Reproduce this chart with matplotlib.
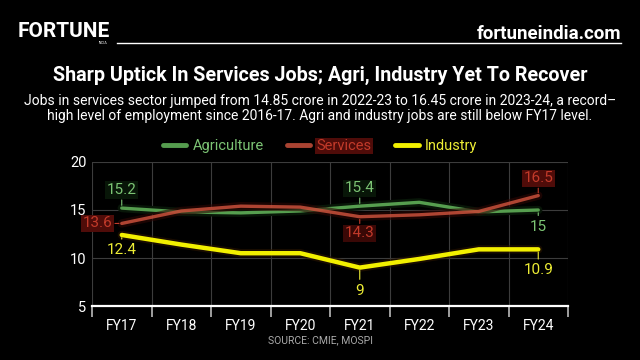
import matplotlib
matplotlib.use('Agg')
import matplotlib.pyplot as plt
import matplotlib.patheffects as pe
from matplotlib import font_manager
from matplotlib.lines import Line2D

# Data (crore jobs)
years = ['FY17', 'FY18', 'FY19', 'FY20', 'FY21', 'FY22', 'FY23', 'FY24']
agriculture = [15.2, 14.8, 14.7, 14.9, 15.4, 15.8, 14.8, 15.0]
services = [13.6, 14.9, 15.4, 15.3, 14.3, 14.5, 14.85, 16.5]
industry = [12.4, 11.4, 10.5, 10.5, 9.0, 9.9, 10.9, 10.9]
y_ticks = [5, 10, 15, 20]

# Pick a narrow font if we have one
names = {f.name for f in font_manager.fontManager.ttflist}
FONT = 'Liberation Sans Narrow' if 'Liberation Sans Narrow' in names else 'Roboto'
plt.rcParams['font.family'] = [FONT, 'DejaVu Sans']

GREEN, GREEN_TXT, GREEN_BOX = '#5fae57', '#7cc474', '#081608'
RED, RED_TXT, RED_BOX = '#d4553f', '#c23a2a', '#4f0c09'
YELLOW, YELLOW_TXT = '#f2f000', '#eded35'

W, H = 640, 360


def fx(px):
    return px / W


def fy(py):
    return 1 - py / H


fig = plt.figure(figsize=(6.4, 3.6), dpi=100, facecolor='black')

# Header
fig.text(fx(18), fy(37), 'FORTUNE', color='white', fontsize=15, fontweight='bold',
         va='baseline', ha='left')
fig.text(fx(103), fy(43), 'INDIA', color='white', fontsize=2.5, ha='center', va='center')
fig.text(fx(621), fy(39), 'fortuneindia.com', color='white', fontsize=13.5,
         fontweight='bold', ha='right', va='baseline')
fig.add_artist(Line2D([fx(117), fx(621)], [fy(42.5), fy(42.5)], color='white', lw=1))

# Title and subtitle
fig.text(0.5, fy(81), 'Sharp Uptick In Services Jobs; Agri, Industry Yet To Recover',
         color='white', fontsize=14.2, fontweight='bold', ha='center', va='baseline')
fig.text(0.5, fy(105), 'Jobs in services sector jumped from 14.85 crore in 2022-23 to 16.45 crore in 2023-24, a record\u2013',
         color='white', fontsize=10, ha='center', va='baseline')
fig.text(0.5, fy(120), 'high level of employment since 2016-17. Agri and industry jobs are still below FY17 level.',
         color='white', fontsize=10, ha='center', va='baseline')

# Chart
ax = fig.add_axes([fx(92), 54 / H, 476 / W, 144 / H])
ax.set_facecolor('black')
x = list(range(len(years)))

l_agri, = ax.plot(x, agriculture, color=GREEN, lw=2.4, alpha=0.9, label='Agriculture',
                  solid_capstyle='round', zorder=3,
                  path_effects=[pe.Stroke(linewidth=6, foreground=GREEN_BOX), pe.Normal()])
l_serv, = ax.plot(x, services, color=RED, lw=2.4, alpha=0.8, label='Services',
                  solid_capstyle='round', zorder=4,
                  path_effects=[pe.Stroke(linewidth=6, foreground='#2e0705', alpha=0.6), pe.Normal()])
l_ind, = ax.plot(x, industry, color=YELLOW, lw=3.2, label='Industry',
                 solid_capstyle='round', zorder=5,
                 path_effects=[pe.Stroke(linewidth=6, foreground='#2a1500', alpha=0.6), pe.Normal()])

ax.set_xlim(-0.5, len(years) - 0.5)
ax.set_ylim(5, 20)
ax.set_yticks(y_ticks)
ax.set_xticks(x)
ax.set_xticklabels(years)
ax.set_xticks([i - 0.5 for i in range(len(years) + 1)], minor=True)
ax.tick_params(axis='x', which='major', length=0, colors='white', labelsize=10, pad=9)
ax.tick_params(axis='x', which='minor', length=8, width=1.2, color='#bbbbbb', direction='out')
ax.tick_params(axis='y', length=0, colors='white', labelsize=10.5, pad=4)
ax.grid(True, axis='y', color='#3c3c3c', lw=0.8)
ax.grid(True, axis='x', which='minor', color='#3c3c3c', lw=0.8)
for side in ['left', 'right', 'top']:
    ax.spines[side].set_visible(False)
ax.spines['bottom'].set_color('white')
ax.spines['bottom'].set_linewidth(1.6)
ax.set_axisbelow(True)


# Data labels with leader lines
def label(i, values, color, box, dx, dy, ha='center'):
    v = values[i]
    ax.annotate(f'{v:g}', (i, v), xytext=(dx, dy), textcoords='offset points',
                ha=ha, va='center', color=color, fontsize=11, zorder=6,
                bbox=dict(boxstyle='square,pad=0.1', fc=box, ec='none') if box else None,
                arrowprops=dict(arrowstyle='-', color=color, lw=0.8, shrinkA=1, shrinkB=2))


label(0, agriculture, GREEN_TXT, GREEN_BOX, 0, 13)
label(4, agriculture, GREEN_TXT, GREEN_BOX, 0, 13)
label(7, agriculture, GREEN_TXT, None, 0, -12)
label(0, services, RED_TXT, RED_BOX, -7, 0, ha='right')
label(4, services, RED_TXT, '#3a0806', 0, -12)
label(7, services, RED_TXT, RED_BOX, 0, 12.5)
label(0, industry, YELLOW_TXT, None, 0, -11)
label(4, industry, YELLOW_TXT, None, 0, -16.5)
label(7, industry, YELLOW_TXT, None, 0, -15)

# Legend
leg = fig.legend(handles=[l_agri, l_serv, l_ind], loc='center', bbox_to_anchor=(0.5, fy(146)),
                 ncol=3, frameon=False, fontsize=10.5, handlelength=1.6, handletextpad=0.45,
                 columnspacing=1.6, labelcolor=[GREEN_TXT, RED_TXT, YELLOW_TXT])
for t, bc in zip(leg.get_texts(), [None, RED_BOX, None]):
    if bc:
        t.set_bbox(dict(boxstyle='square,pad=0.1', fc=bc, ec='none'))
for h in leg.legend_handles:
    h.set_linewidth(3.5)
    h.set_path_effects([])

fig.text(fx(321), fy(340), 'SOURCE: CMIE, MOSPI', color='#aaaaaa', fontsize=7.5,
         ha='center', va='center')

fig.savefig('out.png', dpi=100, facecolor='black')
